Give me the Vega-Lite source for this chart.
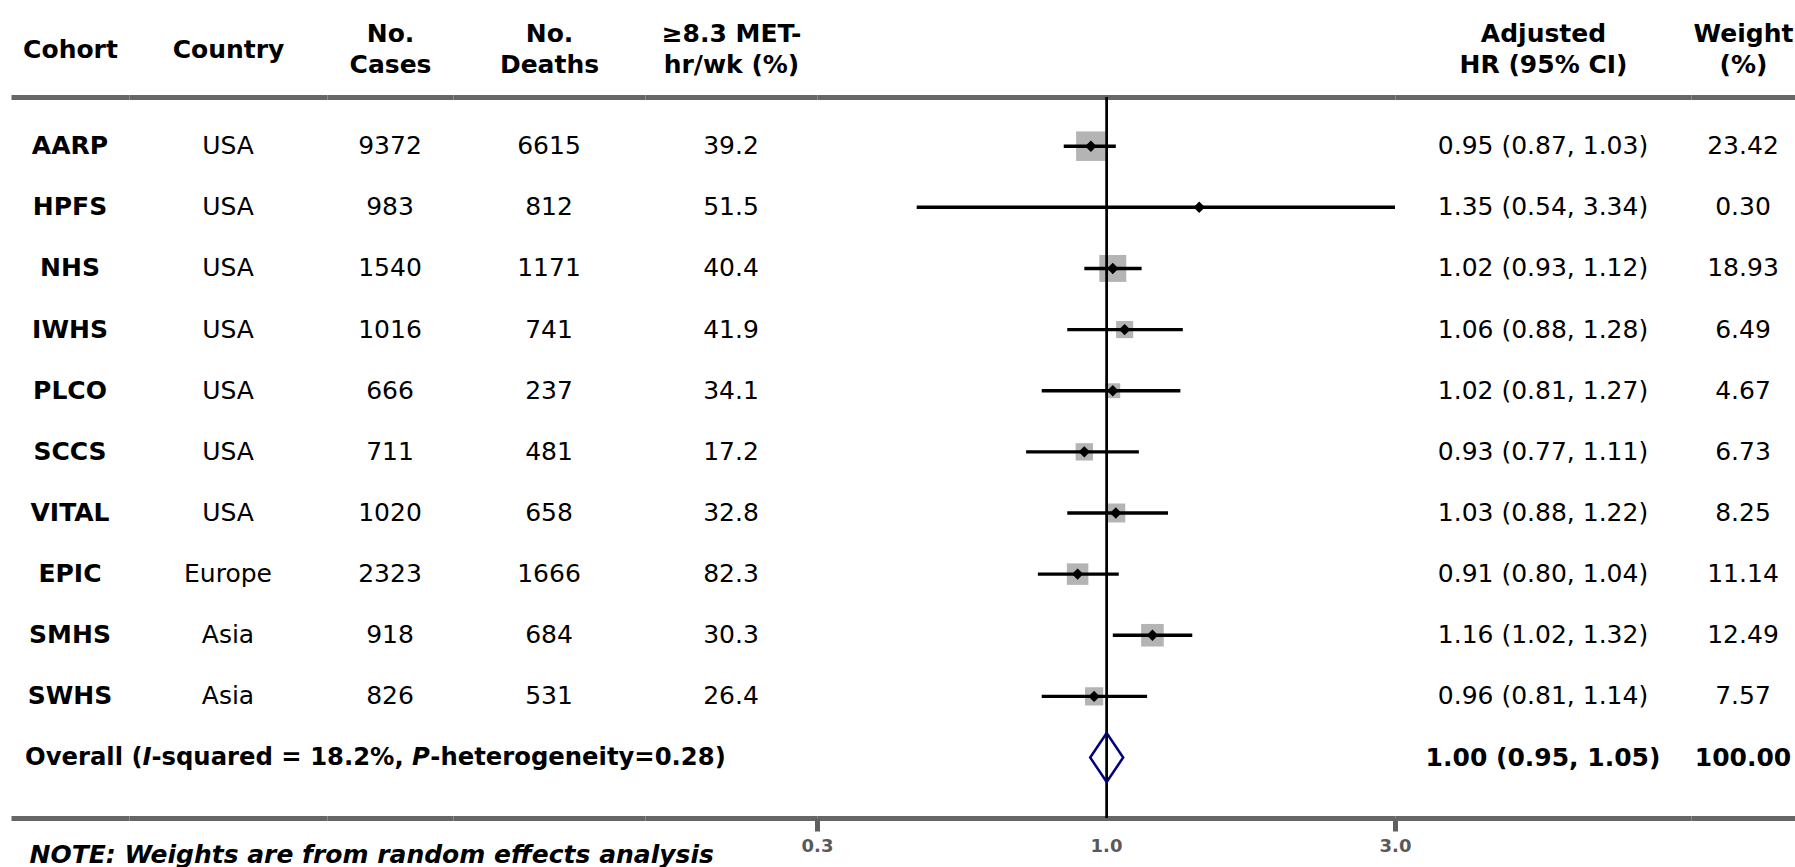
{
  "$schema": "https://vega.github.io/schema/vega-lite/v6.json",
  "padding": {"left": 11, "top": 21, "right": 0, "bottom": 0},
  "autosize": {"type": "pad"},
  "bounds": "flush",
  "spacing": 0,
  "config": {
    "font": "DejaVu Sans",
    "view": {"stroke": null},
    "text": {"font": "DejaVu Sans", "fontSize": 25, "color": "black"},
    "axis": {
      "domainColor": "#666666", "domainWidth": 5, "ticks": false, "labels": false, "grid": false,
      "titleFont": "DejaVu Sans", "titleFontSize": 25, "titleFontWeight": "bold", "titleColor": "black", "titleLineHeight": 31
    }
  },
  "datasets": {
    "rows": [
      {"cohort": "AARP", "country": "USA", "cases": 9372, "deaths": 6615, "met": 39.2, "hr": 0.95, "lo": 0.87, "hi": 1.03, "ci": "0.95 (0.87, 1.03)", "weight": 23.42},
      {"cohort": "HPFS", "country": "USA", "cases": 983, "deaths": 812, "met": 51.5, "hr": 1.35, "lo": 0.54, "hi": 3.34, "ci": "1.35 (0.54, 3.34)", "weight": 0.30},
      {"cohort": "NHS", "country": "USA", "cases": 1540, "deaths": 1171, "met": 40.4, "hr": 1.02, "lo": 0.93, "hi": 1.12, "ci": "1.02 (0.93, 1.12)", "weight": 18.93},
      {"cohort": "IWHS", "country": "USA", "cases": 1016, "deaths": 741, "met": 41.9, "hr": 1.06, "lo": 0.88, "hi": 1.28, "ci": "1.06 (0.88, 1.28)", "weight": 6.49},
      {"cohort": "PLCO", "country": "USA", "cases": 666, "deaths": 237, "met": 34.1, "hr": 1.02, "lo": 0.81, "hi": 1.27, "ci": "1.02 (0.81, 1.27)", "weight": 4.67},
      {"cohort": "SCCS", "country": "USA", "cases": 711, "deaths": 481, "met": 17.2, "hr": 0.93, "lo": 0.77, "hi": 1.11, "ci": "0.93 (0.77, 1.11)", "weight": 6.73},
      {"cohort": "VITAL", "country": "USA", "cases": 1020, "deaths": 658, "met": 32.8, "hr": 1.03, "lo": 0.88, "hi": 1.22, "ci": "1.03 (0.88, 1.22)", "weight": 8.25},
      {"cohort": "EPIC", "country": "Europe", "cases": 2323, "deaths": 1666, "met": 82.3, "hr": 0.91, "lo": 0.80, "hi": 1.04, "ci": "0.91 (0.80, 1.04)", "weight": 11.14},
      {"cohort": "SMHS", "country": "Asia", "cases": 918, "deaths": 684, "met": 30.3, "hr": 1.16, "lo": 1.02, "hi": 1.32, "ci": "1.16 (1.02, 1.32)", "weight": 12.49},
      {"cohort": "SWHS", "country": "Asia", "cases": 826, "deaths": 531, "met": 26.4, "hr": 0.96, "lo": 0.81, "hi": 1.14, "ci": "0.96 (0.81, 1.14)", "weight": 7.57},
      {"cohort": "Overall", "hr": 1.00, "lo": 0.95, "hi": 1.05, "ci": "1.00 (0.95, 1.05)", "weight": 100.00,
       "l1": "Overall (", "l2": "I", "l3": "-squared = 18.2%,", "l4": "P", "l5": "-heterogeneity=0.28)"}
    ]
  },
  "hconcat": [
    {
      "width": 118, "height": 721,
      "data": {"name": "rows"},
      "layer": [
        {
          "transform": [{"filter": "datum.cohort !== 'Overall'"}],
          "mark": {"type": "text", "fontWeight": "bold"},
          "encoding": {
            "y": {"field": "cohort", "type": "nominal", "sort": null, "axis": null, "scale": {"type": "point", "domain": ["AARP","HPFS","NHS","IWHS","PLCO","SCCS","VITAL","EPIC","SMHS","SWHS","Overall"], "padding": 0.897, "align": 0.4485}},
            "x": {"datum": "c", "type": "nominal", "scale": {"paddingInner": 0, "paddingOuter": 0}, "axis": {"orient": "top", "title": "Cohort", "titlePadding": 35}},
            "text": {"field": "cohort"}
          }
        },
        {
          "transform": [{"filter": "datum.cohort === 'Overall'"}],
          "mark": {"type": "text", "fontWeight": "bold", "fontSize": 24.3, "align": "left", "dx": -45},
          "encoding": {
            "y": {"field": "cohort", "type": "nominal", "sort": null, "axis": null},
            "x": {"datum": "c", "type": "nominal", "axis": {"orient": "bottom", "title": "NOTE: Weights are from random effects analysis", "titleFontStyle": "italic", "titleAnchor": "start", "titleAlign": "left", "titleBaseline": "top", "titlePadding": 24, "titleX": 18}},
            "text": {"field": "l1"}
          }
        },
        {
          "transform": [{"filter": "datum.cohort === 'Overall'"}],
          "mark": {"type": "text", "fontWeight": "bold", "fontSize": 24.3, "fontStyle": "italic", "align": "left", "dx": 72.6},
          "encoding": {
            "y": {"field": "cohort", "type": "nominal", "sort": null, "axis": null},
            "x": {"datum": "c", "type": "nominal", "axis": null},
            "text": {"field": "l2"}
          }
        },
        {
          "transform": [{"filter": "datum.cohort === 'Overall'"}],
          "mark": {"type": "text", "fontWeight": "bold", "fontSize": 24.3, "align": "left", "dx": 81.4},
          "encoding": {
            "y": {"field": "cohort", "type": "nominal", "sort": null, "axis": null},
            "x": {"datum": "c", "type": "nominal", "axis": null},
            "text": {"field": "l3"}
          }
        },
        {
          "transform": [{"filter": "datum.cohort === 'Overall'"}],
          "mark": {"type": "text", "fontWeight": "bold", "fontSize": 24.3, "fontStyle": "italic", "align": "left", "dx": 341.9},
          "encoding": {
            "y": {"field": "cohort", "type": "nominal", "sort": null, "axis": null},
            "x": {"datum": "c", "type": "nominal", "axis": null},
            "text": {"field": "l4"}
          }
        },
        {
          "transform": [{"filter": "datum.cohort === 'Overall'"}],
          "mark": {"type": "text", "fontWeight": "bold", "fontSize": 24.3, "align": "left", "dx": 360.3},
          "encoding": {
            "y": {"field": "cohort", "type": "nominal", "sort": null, "axis": null},
            "x": {"datum": "c", "type": "nominal", "axis": null},
            "text": {"field": "l5"}
          }
        }
      ],
      "resolve": {"axis": {"x": "independent"}}
    },
    {
      "width": 198, "height": 721,
      "data": {"name": "rows"},
      "layer": [
        {
          "transform": [{"filter": "datum.cohort !== 'Overall'"}],
          "mark": {"type": "text"},
          "encoding": {
            "y": {"field": "cohort", "type": "nominal", "sort": null, "axis": null, "scale": {"type": "point", "domain": ["AARP","HPFS","NHS","IWHS","PLCO","SCCS","VITAL","EPIC","SMHS","SWHS","Overall"], "padding": 0.897, "align": 0.4485}},
            "x": {"datum": "c", "type": "nominal", "scale": {"paddingInner": 0, "paddingOuter": 0}, "axis": {"orient": "top", "title": "Country", "titlePadding": 35}},
            "text": {"field": "country"}
          }
        },
        {
          "transform": [{"filter": "false"}],
          "mark": {"type": "text"},
          "encoding": {
            "y": {"field": "cohort", "type": "nominal", "sort": null, "axis": null},
            "x": {"datum": "c", "type": "nominal", "axis": {"orient": "bottom", "title": null}},
            "text": {"field": "country"}
          }
        }
      ],
      "resolve": {"axis": {"x": "independent"}}
    },
    {
      "width": 126, "height": 721,
      "data": {"name": "rows"},
      "layer": [
        {
          "transform": [{"filter": "datum.cohort !== 'Overall'"}],
          "mark": {"type": "text"},
          "encoding": {
            "y": {"field": "cohort", "type": "nominal", "sort": null, "axis": null, "scale": {"type": "point", "domain": ["AARP","HPFS","NHS","IWHS","PLCO","SCCS","VITAL","EPIC","SMHS","SWHS","Overall"], "padding": 0.897, "align": 0.4485}},
            "x": {"datum": "c", "type": "nominal", "scale": {"paddingInner": 0, "paddingOuter": 0}, "axis": {"orient": "top", "title": ["No.", "Cases"], "titlePadding": 20}},
            "text": {"field": "cases", "type": "quantitative", "format": "d"}
          }
        },
        {
          "transform": [{"filter": "false"}],
          "mark": {"type": "text"},
          "encoding": {
            "y": {"field": "cohort", "type": "nominal", "sort": null, "axis": null},
            "x": {"datum": "c", "type": "nominal", "axis": {"orient": "bottom", "title": null}},
            "text": {"field": "cases", "type": "quantitative", "format": "d"}
          }
        }
      ],
      "resolve": {"axis": {"x": "independent"}}
    },
    {
      "width": 192, "height": 721,
      "data": {"name": "rows"},
      "layer": [
        {
          "transform": [{"filter": "datum.cohort !== 'Overall'"}],
          "mark": {"type": "text"},
          "encoding": {
            "y": {"field": "cohort", "type": "nominal", "sort": null, "axis": null, "scale": {"type": "point", "domain": ["AARP","HPFS","NHS","IWHS","PLCO","SCCS","VITAL","EPIC","SMHS","SWHS","Overall"], "padding": 0.897, "align": 0.4485}},
            "x": {"datum": "c", "type": "nominal", "scale": {"paddingInner": 0, "paddingOuter": 0}, "axis": {"orient": "top", "title": ["No.", "Deaths"], "titlePadding": 20}},
            "text": {"field": "deaths", "type": "quantitative", "format": "d"}
          }
        },
        {
          "transform": [{"filter": "false"}],
          "mark": {"type": "text"},
          "encoding": {
            "y": {"field": "cohort", "type": "nominal", "sort": null, "axis": null},
            "x": {"datum": "c", "type": "nominal", "axis": {"orient": "bottom", "title": null}},
            "text": {"field": "deaths", "type": "quantitative", "format": "d"}
          }
        }
      ],
      "resolve": {"axis": {"x": "independent"}}
    },
    {
      "width": 172, "height": 721,
      "data": {"name": "rows"},
      "layer": [
        {
          "transform": [{"filter": "datum.cohort !== 'Overall'"}],
          "mark": {"type": "text"},
          "encoding": {
            "y": {"field": "cohort", "type": "nominal", "sort": null, "axis": null, "scale": {"type": "point", "domain": ["AARP","HPFS","NHS","IWHS","PLCO","SCCS","VITAL","EPIC","SMHS","SWHS","Overall"], "padding": 0.897, "align": 0.4485}},
            "x": {"datum": "c", "type": "nominal", "scale": {"paddingInner": 0, "paddingOuter": 0}, "axis": {"orient": "top", "title": ["≥8.3 MET-", "hr/wk (%)"], "titlePadding": 20}},
            "text": {"field": "met", "type": "quantitative", "format": ".1f"}
          }
        },
        {
          "transform": [{"filter": "false"}],
          "mark": {"type": "text"},
          "encoding": {
            "y": {"field": "cohort", "type": "nominal", "sort": null, "axis": null},
            "x": {"datum": "c", "type": "nominal", "axis": {"orient": "bottom", "title": null}},
            "text": {"field": "met", "type": "quantitative", "format": ".1f"}
          }
        }
      ],
      "resolve": {"axis": {"x": "independent"}}
    },
    {
      "width": 578, "height": 721,
      "data": {"name": "rows"},
      "layer": [
        {
          "transform": [{"filter": "datum.cohort !== 'Overall'"}],
          "mark": {"type": "square", "color": "#b4b4b4", "opacity": 1},
          "encoding": {
            "y": {"field": "cohort", "type": "nominal", "sort": null, "axis": null, "scale": {"type": "point", "domain": ["AARP","HPFS","NHS","IWHS","PLCO","SCCS","VITAL","EPIC","SMHS","SWHS","Overall"], "padding": 0.897, "align": 0.4485}},
            "x": {"field": "hr", "type": "quantitative", "scale": {"type": "log", "domain": [0.3908, 2.5475], "nice": false, "zero": false},
                  "axis": {"orient": "bottom", "title": "1.0", "values": [0.3908, 2.5475],
                           "labelExpr": "datum.value < 1 ? '0.3' : '3.0'",
                           "ticks": true, "tickSize": 13, "tickWidth": 5, "tickColor": "#5f5f5f", "tickOpacity": 1,
                           "labels": true, "labelFont": "DejaVu Sans", "labelFontWeight": "bold", "labelFontSize": 18, "labelColor": "#595959",
                           "labelPadding": 6, "labelFlush": false, "labelOverlap": false,
                           "titleFont": "DejaVu Sans", "titleFontWeight": "bold", "titleFontSize": 18, "titleColor": "#595959",
                           "titleAnchor": "middle", "titleBaseline": "top", "titleY": 19}},
            "size": {"field": "weight", "type": "quantitative", "scale": {"type": "pow", "exponent": 0.85, "domain": [0, 23.42], "range": [0, 870]}, "legend": null}
          }
        },
        {
          "mark": {"type": "rule", "color": "black", "strokeWidth": 1.6},
          "encoding": {
            "x": {"datum": 1, "type": "quantitative", "axis": {"orient": "top", "title": null}}
          }
        },
        {
          "transform": [{"filter": "datum.cohort !== 'Overall'"}],
          "mark": {"type": "rule", "color": "black", "strokeWidth": 3.4, "clip": true},
          "encoding": {
            "y": {"field": "cohort", "type": "nominal", "sort": null, "axis": null},
            "x": {"field": "lo", "type": "quantitative", "axis": null},
            "x2": {"field": "hi"}
          }
        },
        {
          "transform": [{"filter": "datum.cohort !== 'Overall'"}],
          "mark": {"type": "point", "shape": "diamond", "filled": true, "color": "black", "opacity": 1, "size": 130},
          "encoding": {
            "y": {"field": "cohort", "type": "nominal", "sort": null, "axis": null},
            "x": {"field": "hr", "type": "quantitative", "axis": null}
          }
        },
        {
          "transform": [{"filter": "datum.cohort === 'Overall'"}],
          "mark": {"type": "point", "shape": "M-0.673,0L0,-1L0.673,0L0,1Z", "filled": false, "stroke": "#00007f", "strokeWidth": 2.5, "opacity": 1, "size": 2401},
          "encoding": {
            "y": {"field": "cohort", "type": "nominal", "sort": null, "axis": null},
            "x": {"field": "hr", "type": "quantitative", "axis": null}
          }
        }
      ],
      "resolve": {"axis": {"x": "independent"}}
    },
    {
      "width": 296, "height": 721,
      "data": {"name": "rows"},
      "layer": [
        {
          "transform": [{"filter": "datum.cohort !== 'Overall'"}],
          "mark": {"type": "text"},
          "encoding": {
            "y": {"field": "cohort", "type": "nominal", "sort": null, "axis": null, "scale": {"type": "point", "domain": ["AARP","HPFS","NHS","IWHS","PLCO","SCCS","VITAL","EPIC","SMHS","SWHS","Overall"], "padding": 0.897, "align": 0.4485}},
            "x": {"datum": "c", "type": "nominal", "scale": {"paddingInner": 0, "paddingOuter": 0}, "axis": {"orient": "top", "title": ["Adjusted", "HR (95% CI)"], "titlePadding": 20}},
            "text": {"field": "ci"}
          }
        },
        {
          "transform": [{"filter": "datum.cohort === 'Overall'"}],
          "mark": {"type": "text", "fontWeight": "bold"},
          "encoding": {
            "y": {"field": "cohort", "type": "nominal", "sort": null, "axis": null},
            "x": {"datum": "c", "type": "nominal", "axis": {"orient": "bottom", "title": null}},
            "text": {"field": "ci"}
          }
        }
      ],
      "resolve": {"axis": {"x": "independent"}}
    },
    {
      "width": 104, "height": 721,
      "data": {"name": "rows"},
      "layer": [
        {
          "transform": [{"filter": "datum.cohort !== 'Overall'"}],
          "mark": {"type": "text"},
          "encoding": {
            "y": {"field": "cohort", "type": "nominal", "sort": null, "axis": null, "scale": {"type": "point", "domain": ["AARP","HPFS","NHS","IWHS","PLCO","SCCS","VITAL","EPIC","SMHS","SWHS","Overall"], "padding": 0.897, "align": 0.4485}},
            "x": {"datum": "c", "type": "nominal", "scale": {"paddingInner": 0, "paddingOuter": 0}, "axis": {"orient": "top", "title": ["Weight", "(%)"], "titlePadding": 20}},
            "text": {"field": "weight", "type": "quantitative", "format": ".2f"}
          }
        },
        {
          "transform": [{"filter": "datum.cohort === 'Overall'"}],
          "mark": {"type": "text", "fontWeight": "bold"},
          "encoding": {
            "y": {"field": "cohort", "type": "nominal", "sort": null, "axis": null},
            "x": {"datum": "c", "type": "nominal", "axis": {"orient": "bottom", "title": null}},
            "text": {"field": "weight", "type": "quantitative", "format": ".2f"}
          }
        }
      ],
      "resolve": {"axis": {"x": "independent"}}
    }
  ]
}
